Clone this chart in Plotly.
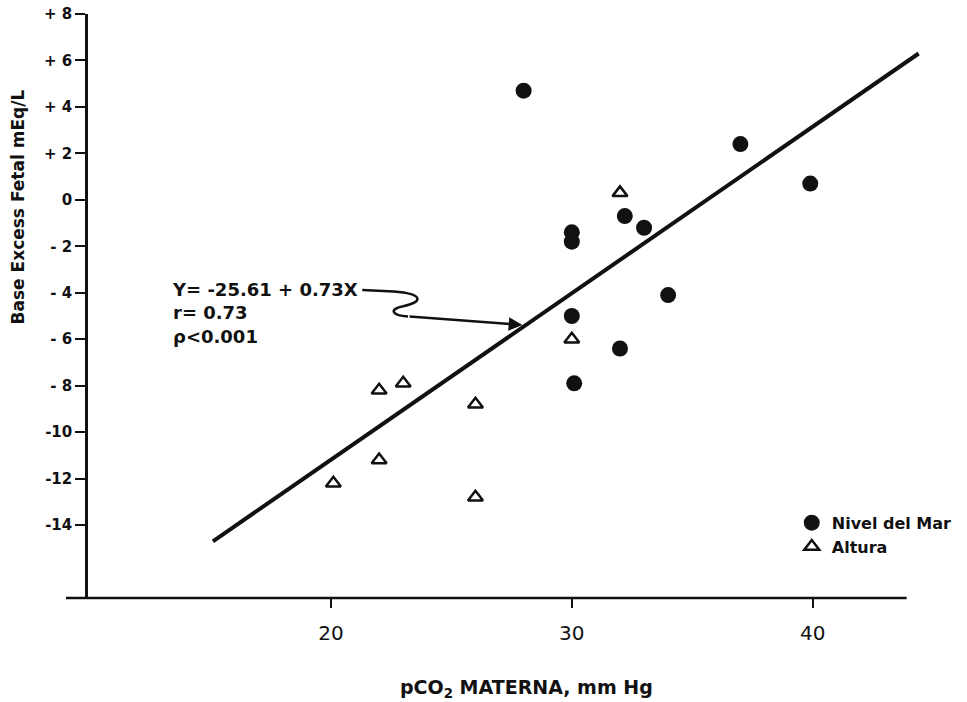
import plotly.graph_objects as go

# ---- data ----
mar_x = [28.0, 37.0, 39.9, 30.0, 30.0, 32.2, 33.0, 34.0, 30.0, 32.0, 30.1]
mar_y = [4.7, 2.4, 0.7, -1.4, -1.8, -0.7, -1.2, -4.1, -5.0, -6.4, -7.9]

alt_x = [32.0, 30.0, 26.0, 23.0, 22.0, 22.0, 20.1, 26.0]
alt_y = [0.3, -6.0, -8.8, -7.9, -8.2, -11.2, -12.2, -12.8]

fit_x = [15.1, 44.4]
fit_y = [-14.7, 6.3]

x_ticks = [20, 30, 40]
y_ticks = [8, 6, 4, 2, 0, -2, -4, -6, -8, -10, -12, -14]
y_ticklabels = ["+ 8", "+ 6", "+ 4", "+ 2", "0", "- 2", "- 4", "- 6", "- 8", "-10", "-12", "-14"]

X_RANGE = [9.0, 46.2]
Y_RANGE = [-17.14, 8.0]
Y_AXIS_AT = 9.83

FONT = "DejaVu Sans"

fig = go.Figure()

fig.add_trace(go.Scatter(
    x=fit_x, y=fit_y, mode="lines",
    line=dict(color="#111111", width=4), showlegend=False, hoverinfo="skip"))

fig.add_trace(go.Scatter(
    x=mar_x, y=mar_y, mode="markers", name="Nivel del Mar",
    marker=dict(symbol="circle", size=16, color="#111111")))

fig.add_trace(go.Scatter(
    x=alt_x, y=alt_y, mode="markers", name="Altura",
    marker=dict(symbol="triangle-up-open", size=13, color="#111111",
                line=dict(color="#111111", width=2.5))))

pos = (Y_AXIS_AT - X_RANGE[0]) / (X_RANGE[1] - X_RANGE[0])

fig.update_layout(
    width=967, height=702,
    margin=dict(l=66, r=5, t=14, b=104),
    paper_bgcolor="white", plot_bgcolor="white",
    font=dict(family=FONT, color="#111111"),
    xaxis=dict(range=X_RANGE, showgrid=False, zeroline=False, showline=False,
               tickmode="array", tickvals=x_ticks, ticks="outside", ticklen=9,
               tickwidth=2, tickcolor="#111111", ticklabelstandoff=8,
               tickfont=dict(size=20, family=FONT, color="#111111")),
    yaxis=dict(range=Y_RANGE, showgrid=False, zeroline=False, showline=True,
               linecolor="#111111", linewidth=2.5, anchor="free", position=pos,
               tickmode="array", tickvals=y_ticks, ticktext=y_ticklabels,
               ticks="outside", ticklen=10, tickwidth=2, tickcolor="#111111",
               tickfont=dict(size=15, family=FONT, color="#111111", weight="bold")),
    legend=dict(x=0.81, y=0.158, xanchor="left", yanchor="top",
                bgcolor="rgba(0,0,0,0)", itemwidth=30, tracegroupgap=0,
                font=dict(size=16, family=FONT, color="#111111", weight="bold")),
    showlegend=True,
)

# x-axis baseline (stops short of the right edge, as in the reference)
fig.add_shape(type="line", xref="x", yref="paper", x0=X_RANGE[0], x1=43.9,
              y0=0, y1=0, line=dict(color="#111111", width=2.5))

# axis titles
fig.add_annotation(text="pCO<sub>2</sub> MATERNA, mm Hg", xref="x", yref="paper",
                   x=28.1, y=-0.155, yanchor="middle", showarrow=False,
                   font=dict(size=19, family=FONT, weight="bold"))
fig.add_annotation(text="Base Excess Fetal mEq/L", xref="paper", yref="y",
                   x=-0.054, y=-0.3, textangle=-90, showarrow=False,
                   xanchor="center", yanchor="middle",
                   font=dict(size=17, family=FONT, weight="bold"))

# regression text
fig.add_annotation(text="Y= -25.61 + 0.73X<br>r= 0.73<br>ρ<0.001",
                   xref="x", yref="y", x=13.3, y=-3.33, xanchor="left",
                   yanchor="top", align="left", showarrow=False,
                   font=dict(size=18, family=FONT, weight="bold"))

# curly connector from text to the line
fig.add_shape(type="path", xref="x", yref="y",
              path="M 21.3,-3.88 L 22.6,-3.95 C 23.9,-4.05 23.8,-4.42 23.0,-4.58 "
                   "C 22.4,-4.7 22.5,-4.98 23.2,-5.02",
              line=dict(color="#111111", width=2.5))
fig.add_annotation(x=27.95, y=-5.39, ax=23.2, ay=-5.02, axref="x", ayref="y",
                   xref="x", yref="y", text="", showarrow=True,
                   arrowhead=2, arrowsize=1.1, arrowwidth=2.5, arrowcolor="#111111")

fig.write_html("out.html")
